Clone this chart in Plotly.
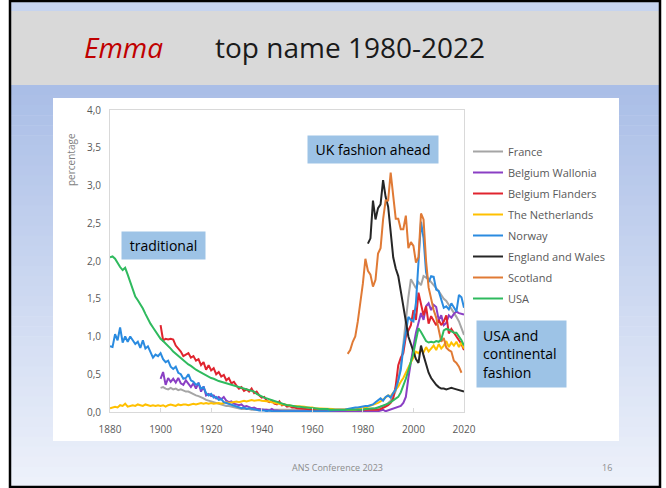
import plotly.graph_objects as go

# ---- data (percentage of girls named Emma) ----
years_1880 = list(range(1880, 2021))
years_1900 = list(range(1900, 2021))
years_ew = list(range(1982, 2021))
years_sc = list(range(1974, 2020))

france = [
    0.32, 0.33, 0.31, 0.30, 0.32, 0.30, 0.31, 0.29, 0.30, 0.28,
    0.27, 0.27, 0.25, 0.24, 0.22, 0.21, 0.20, 0.18, 0.16, 0.15,
    0.14, 0.13, 0.12, 0.11, 0.10, 0.09, 0.08, 0.08, 0.07, 0.06,
    0.05, 0.05, 0.04, 0.04, 0.04, 0.04, 0.03, 0.03, 0.03, 0.03,
    0.03, 0.03, 0.03, 0.03, 0.02, 0.02, 0.02, 0.02, 0.02, 0.02,
    0.02, 0.02, 0.02, 0.02, 0.02, 0.02, 0.02, 0.02, 0.02, 0.02,
    0.02, 0.02, 0.02, 0.02, 0.02, 0.02, 0.02, 0.02, 0.02, 0.02,
    0.02, 0.02, 0.02, 0.02, 0.02, 0.02, 0.02, 0.02, 0.02, 0.02,
    0.03, 0.03, 0.04, 0.04, 0.05, 0.05, 0.06, 0.07, 0.08, 0.09,
    0.12, 0.15, 0.20, 0.28, 0.42, 0.62, 0.90, 1.22, 1.52, 1.76,
    1.70, 1.64, 1.72, 1.68, 1.80, 1.78, 1.76, 1.72, 1.68, 1.65,
    1.60, 1.55, 1.50, 1.47, 1.42, 1.36, 1.32, 1.26, 1.20, 1.12,
    1.02,
]
wallonia = [
    0.44, 0.53, 0.36, 0.45, 0.40, 0.44, 0.39, 0.45, 0.38, 0.36,
    0.42, 0.37, 0.33, 0.38, 0.31, 0.39, 0.27, 0.34, 0.22, 0.24,
    0.21, 0.22, 0.18, 0.20, 0.17, 0.20, 0.15, 0.13, 0.14, 0.11,
    0.10, 0.09, 0.10, 0.07, 0.08, 0.06, 0.05, 0.06, 0.04, 0.04,
    0.03, 0.03, 0.03, 0.02, 0.04, 0.02, 0.02, 0.01, 0.01, 0.01,
    0.01, 0.01, 0.01, 0.01, 0.01, 0.01, 0.01, 0.01, 0.01, 0.01,
    0.01, 0.01, 0.01, 0.01, 0.01, 0.01, 0.01, 0.01, 0.01, 0.01,
    0.01, 0.01, 0.01, 0.01, 0.01, 0.01, 0.01, 0.01, 0.01, 0.01,
    0.01, 0.01, 0.01, 0.01, 0.01, 0.01, 0.01, 0.02, 0.03, 0.01,
    0.02, 0.03, 0.04, 0.05, 0.07, 0.08, 0.12, 0.20, 0.45, 0.68,
    0.87, 1.05, 1.20, 1.31, 1.22, 1.40, 1.44, 1.35, 1.42, 1.39,
    1.22, 1.28, 1.15, 1.18, 1.28, 1.25, 1.30, 1.33, 1.31, 1.30,
    1.29,
]
flanders = [
    1.15, 0.95, 0.97, 0.96, 0.97, 0.96, 0.88, 0.84, 0.80, 0.74,
    0.76, 0.78, 0.72, 0.74, 0.68, 0.70, 0.62, 0.66, 0.56, 0.62,
    0.55, 0.58, 0.50, 0.53, 0.47, 0.49, 0.42, 0.45, 0.38, 0.40,
    0.35, 0.31, 0.33, 0.28, 0.30, 0.27, 0.31, 0.25, 0.27, 0.22,
    0.19, 0.20, 0.15, 0.13, 0.15, 0.11, 0.10, 0.14, 0.09, 0.10,
    0.07, 0.08, 0.06, 0.06, 0.05, 0.05, 0.04, 0.04, 0.04, 0.03,
    0.03, 0.02, 0.02, 0.02, 0.02, 0.02, 0.02, 0.02, 0.02, 0.02,
    0.02, 0.02, 0.02, 0.02, 0.02, 0.02, 0.02, 0.02, 0.02, 0.02,
    0.02, 0.02, 0.02, 0.02, 0.02, 0.02, 0.03, 0.04, 0.05, 0.07,
    0.09, 0.12, 0.18, 0.35, 0.62, 0.72, 0.78, 1.00, 1.08, 1.15,
    1.35, 1.22, 1.58, 1.45, 1.28, 1.40, 1.17, 1.27, 1.20, 1.15,
    1.22, 1.15, 1.20, 1.28, 1.04, 1.10, 1.05, 0.99, 0.95, 0.90,
    0.82,
]
netherlands = [
    0.05, 0.06, 0.07, 0.06, 0.09, 0.08, 0.11, 0.07, 0.08, 0.09,
    0.08, 0.10, 0.09, 0.08, 0.10, 0.09, 0.08, 0.09, 0.08, 0.09,
    0.08, 0.09, 0.07, 0.09, 0.10, 0.09, 0.08, 0.10, 0.09, 0.10,
    0.10, 0.09, 0.10, 0.11, 0.10, 0.11, 0.12, 0.11, 0.12, 0.11,
    0.12, 0.11, 0.12, 0.12, 0.11, 0.12, 0.13, 0.12, 0.13, 0.13,
    0.14, 0.13, 0.14, 0.15, 0.14, 0.15, 0.16, 0.15, 0.16, 0.16,
    0.15, 0.15, 0.14, 0.14, 0.13, 0.12, 0.12, 0.11, 0.10, 0.10,
    0.09, 0.09, 0.08, 0.08, 0.08, 0.07, 0.07, 0.07, 0.06, 0.06,
    0.06, 0.05, 0.05, 0.05, 0.05, 0.04, 0.04, 0.04, 0.04, 0.03,
    0.03, 0.03, 0.03, 0.03, 0.03, 0.03, 0.03, 0.03, 0.04, 0.04,
    0.05, 0.06, 0.07, 0.08, 0.09, 0.10, 0.12, 0.14, 0.17, 0.19,
    0.22, 0.21, 0.25, 0.30, 0.34, 0.40, 0.45, 0.52, 0.60, 0.66,
    0.72, 0.80, 0.78, 0.82, 0.79, 0.86, 0.80, 0.84, 0.88, 0.82,
    0.90, 0.84, 0.88, 0.94, 0.86, 0.92, 0.88, 0.93, 0.86, 0.92,
    0.84,
]
norway = [
    0.87, 0.86, 1.03, 0.95, 1.12, 0.92, 1.00, 0.93, 1.00, 0.94,
    0.90, 0.93, 0.85, 0.95, 0.84, 0.87, 0.80, 0.72, 0.76, 0.74,
    0.78, 0.70, 0.66, 0.68, 0.60, 0.57, 0.60, 0.52, 0.50, 0.44,
    0.45, 0.50, 0.42, 0.40, 0.36, 0.38, 0.31, 0.33, 0.25, 0.22,
    0.24, 0.19, 0.20, 0.16, 0.17, 0.13, 0.12, 0.11, 0.09, 0.08,
    0.07, 0.07, 0.05, 0.06, 0.04, 0.05, 0.04, 0.03, 0.03, 0.02,
    0.02, 0.02, 0.01, 0.02, 0.01, 0.01, 0.01, 0.01, 0.01, 0.01,
    0.01, 0.01, 0.01, 0.01, 0.01, 0.01, 0.01, 0.01, 0.01, 0.01,
    0.01, 0.01, 0.01, 0.01, 0.01, 0.01, 0.01, 0.02, 0.02, 0.02,
    0.02, 0.02, 0.03, 0.03, 0.04, 0.05, 0.05, 0.06, 0.06, 0.07,
    0.07, 0.08, 0.08, 0.09, 0.10, 0.13, 0.16, 0.18, 0.15, 0.20,
    0.22, 0.19, 0.25, 0.30, 0.42, 0.56, 0.85, 1.05, 1.26, 1.22,
    1.20, 1.45, 1.95, 2.52, 2.30, 1.85, 1.72, 1.80, 1.79, 1.62,
    1.60, 1.50, 1.38, 1.40, 1.36, 1.44, 1.38, 1.33, 1.55, 1.52,
    1.38,
]
england_wales = [
    2.23, 2.30, 2.80, 2.55, 2.70, 2.75, 3.07, 2.85, 2.72, 2.35,
    2.05, 1.90, 1.80, 1.60, 1.40, 1.20, 1.00, 0.90, 0.80, 0.70,
    0.65, 0.88, 0.75, 0.62, 0.52, 0.45, 0.40, 0.36, 0.33, 0.31,
    0.31, 0.30, 0.31, 0.32, 0.31, 0.30, 0.29, 0.28, 0.27,
]
scotland = [
    0.77, 0.82, 0.93, 1.00, 1.20, 1.45, 1.70, 2.03, 1.87, 1.82,
    1.66, 1.75, 2.10, 2.17, 2.55, 2.80, 2.80, 3.17, 2.85, 2.56,
    2.56, 2.42, 2.42, 2.60, 2.17, 2.25, 2.20, 1.98, 2.05, 2.63,
    2.55, 2.00, 1.65, 1.48, 1.35, 1.25, 1.10, 0.93, 0.98, 0.85,
    0.82, 0.80, 0.68, 0.65, 0.60, 0.52,
]
usa = [
    2.05, 2.06, 2.03, 1.97, 1.92, 1.88, 1.91, 1.82, 1.73, 1.62,
    1.53, 1.48, 1.43, 1.37, 1.30, 1.23, 1.17, 1.12, 1.07, 1.02,
    0.97, 0.94, 0.91, 0.87, 0.84, 0.80, 0.77, 0.74, 0.71, 0.68,
    0.66, 0.63, 0.61, 0.58, 0.56, 0.54, 0.52, 0.50, 0.48, 0.47,
    0.45, 0.44, 0.42, 0.41, 0.40, 0.39, 0.38, 0.37, 0.36, 0.35,
    0.34, 0.33, 0.32, 0.31, 0.30, 0.29, 0.28, 0.27, 0.24, 0.22,
    0.20, 0.19, 0.18, 0.17, 0.15, 0.14, 0.13, 0.12, 0.11, 0.10,
    0.09, 0.09, 0.08, 0.08, 0.07, 0.07, 0.06, 0.06, 0.06, 0.05,
    0.05, 0.05, 0.04, 0.04, 0.04, 0.04, 0.04, 0.03, 0.03, 0.03,
    0.03, 0.02, 0.02, 0.02, 0.02, 0.02, 0.02, 0.02, 0.03, 0.03,
    0.03, 0.04, 0.04, 0.04, 0.05, 0.05, 0.06, 0.07, 0.08, 0.10,
    0.11, 0.13, 0.15, 0.17, 0.20, 0.26, 0.34, 0.44, 0.55, 0.67,
    0.78, 0.95, 1.11, 1.06, 1.00, 0.94, 0.92, 0.93, 0.92, 0.94,
    0.93, 0.96, 1.08, 1.10, 1.09, 1.07, 1.05, 1.05, 1.00, 0.95,
    0.88,
]

series = [
    ("France", years_1900, france, "#a5a5a5"),
    ("Belgium Wallonia", years_1900, wallonia, "#8a3fc4"),
    ("Belgium Flanders", years_1900, flanders, "#e0242e"),
    ("The Netherlands", years_1880, netherlands, "#ffc000"),
    ("Norway", years_1880, norway, "#2a8be0"),
    ("England and Wales", years_ew, england_wales, "#262626"),
    ("Scotland", years_sc, scotland, "#e07a35"),
    ("USA", years_1880, usa, "#2fba5e"),
]

# ---- pixel helpers (plot area 110..464 x 110..412) ----
W, H = 666, 488
L, R, T, B = 110, 464, 110, 412


def px(x):
    return (x - L) / (R - L)


def py(y):
    return (B - y) / (B - T)


font = "Open Sans, Liberation Sans, sans-serif"

fig = go.Figure()
for name, yrs, vals, col in series:
    fig.add_trace(go.Scatter(
        x=yrs, y=vals, name=name, mode="lines", legendgroup=name,
        line=dict(color=col, width=2),
    ))

shapes = []
# slide background gradient
n = 40
y0, y1 = 85, 487
c_top, c_bot = (170, 190, 231), (237, 241, 250)
for i in range(n):
    t = i / (n - 1)
    c = tuple(int(round(a + (b - a) * t)) for a, b in zip(c_top, c_bot))
    ya = y0 + (y1 - y0) * i / n
    yb = y0 + (y1 - y0) * (i + 1) / n + 0.6
    shapes.append(dict(type="rect", xref="paper", yref="paper", layer="below",
                       x0=px(9), x1=px(661), y0=py(ya), y1=py(yb),
                       fillcolor="rgb(%d,%d,%d)" % c, line_width=0))
shapes += [
    dict(type="rect", xref="paper", yref="paper", layer="below",
         x0=px(9), x1=px(661), y0=py(1), y1=py(11),
         fillcolor="#c6d4ef", line_width=0),
    dict(type="rect", xref="paper", yref="paper", layer="below",
         x0=px(9), x1=px(661), y0=py(11), y1=py(85),
         fillcolor="#d9d9d9", line_width=0),
    dict(type="rect", xref="paper", yref="paper", layer="below",
         x0=px(53), x1=px(619), y0=py(98), y1=py(441),
         fillcolor="white", line_width=0),
    dict(type="rect", xref="paper", yref="paper", layer="above",
         x0=px(10), x1=px(660), y0=py(1), y1=py(487),
         line=dict(color="black", width=2.5)),
]

box_col = "#9dc3e6"
annotations = [
    dict(text="<i>Emma</i>", x=px(82), y=py(47), xanchor="left",
         font=dict(size=28, color="#c00000", family=font)),
    dict(text="top name 1980-2022", x=px(213), y=py(47), xanchor="left",
         font=dict(size=28, color="#1a1a1a", family=font)),
    dict(text="UK fashion ahead", x=px(373), y=py(149.5), width=130, height=27,
         bgcolor=box_col, borderpad=0, font=dict(size=14, color="black", family=font)),
    dict(text="traditional", x=px(163.5), y=py(245.5), width=83, height=27,
         bgcolor=box_col, borderpad=0, font=dict(size=14, color="black", family=font)),
    dict(text="USA and<br>continental<br>fashion", x=px(521.5), y=py(354),
         width=77, height=54, align="left", bgcolor=box_col, borderpad=6,
         font=dict(size=14, color="black", family=font)),
    dict(text="percentage", x=px(71), y=py(160), textangle=-90,
         font=dict(size=10, color="#7f7f7f", family=font)),
    dict(text="ANS Conference 2023", x=px(337), y=py(467),
         font=dict(size=9, color="#8c8c8c", family=font)),
    dict(text="16", x=px(607), y=py(467),
         font=dict(size=9, color="#8c8c8c", family=font)),
]
for a in annotations:
    a.setdefault("xanchor", "center")
    a.update(xref="paper", yref="paper", showarrow=False, yanchor="middle")

fig.update_layout(
    width=W, height=H,
    margin=dict(l=L, r=W - R, t=T, b=H - B, pad=0),
    paper_bgcolor="white", plot_bgcolor="rgba(0,0,0,0)",
    separators=",.",
    font=dict(family=font, color="#595959", size=10),
    shapes=shapes, annotations=annotations,
    legend=dict(x=px(468), y=py(137), xanchor="left", yanchor="top",
                font=dict(size=11, color="#595959", family=font),
                bgcolor="rgba(0,0,0,0)", tracegroupgap=2),
    xaxis=dict(range=[1880, 2020], tickvals=[1880, 1900, 1920, 1940, 1960, 1980, 2000, 2020],
               showgrid=False, zeroline=False, showline=True, mirror=True,
               linecolor="#d9d9d9", linewidth=1, ticks="inside", ticklen=4,
               tickcolor="#d9d9d9", tickfont=dict(size=10, color="#595959"),
               ticklabelstandoff=8),
    yaxis=dict(range=[0, 4], dtick=0.5, tickformat=".1f",
               showgrid=False, zeroline=False, showline=True, mirror=True,
               linecolor="#d9d9d9", linewidth=1, ticks="",
               tickfont=dict(size=10, color="#595959"), ticklabelstandoff=6),
)

# drop the default 8px page margin so the figure sits at the window origin
fig.write_html("out.html", config={"displayModeBar": False},
               post_script="document.body.style.margin='0px';")
